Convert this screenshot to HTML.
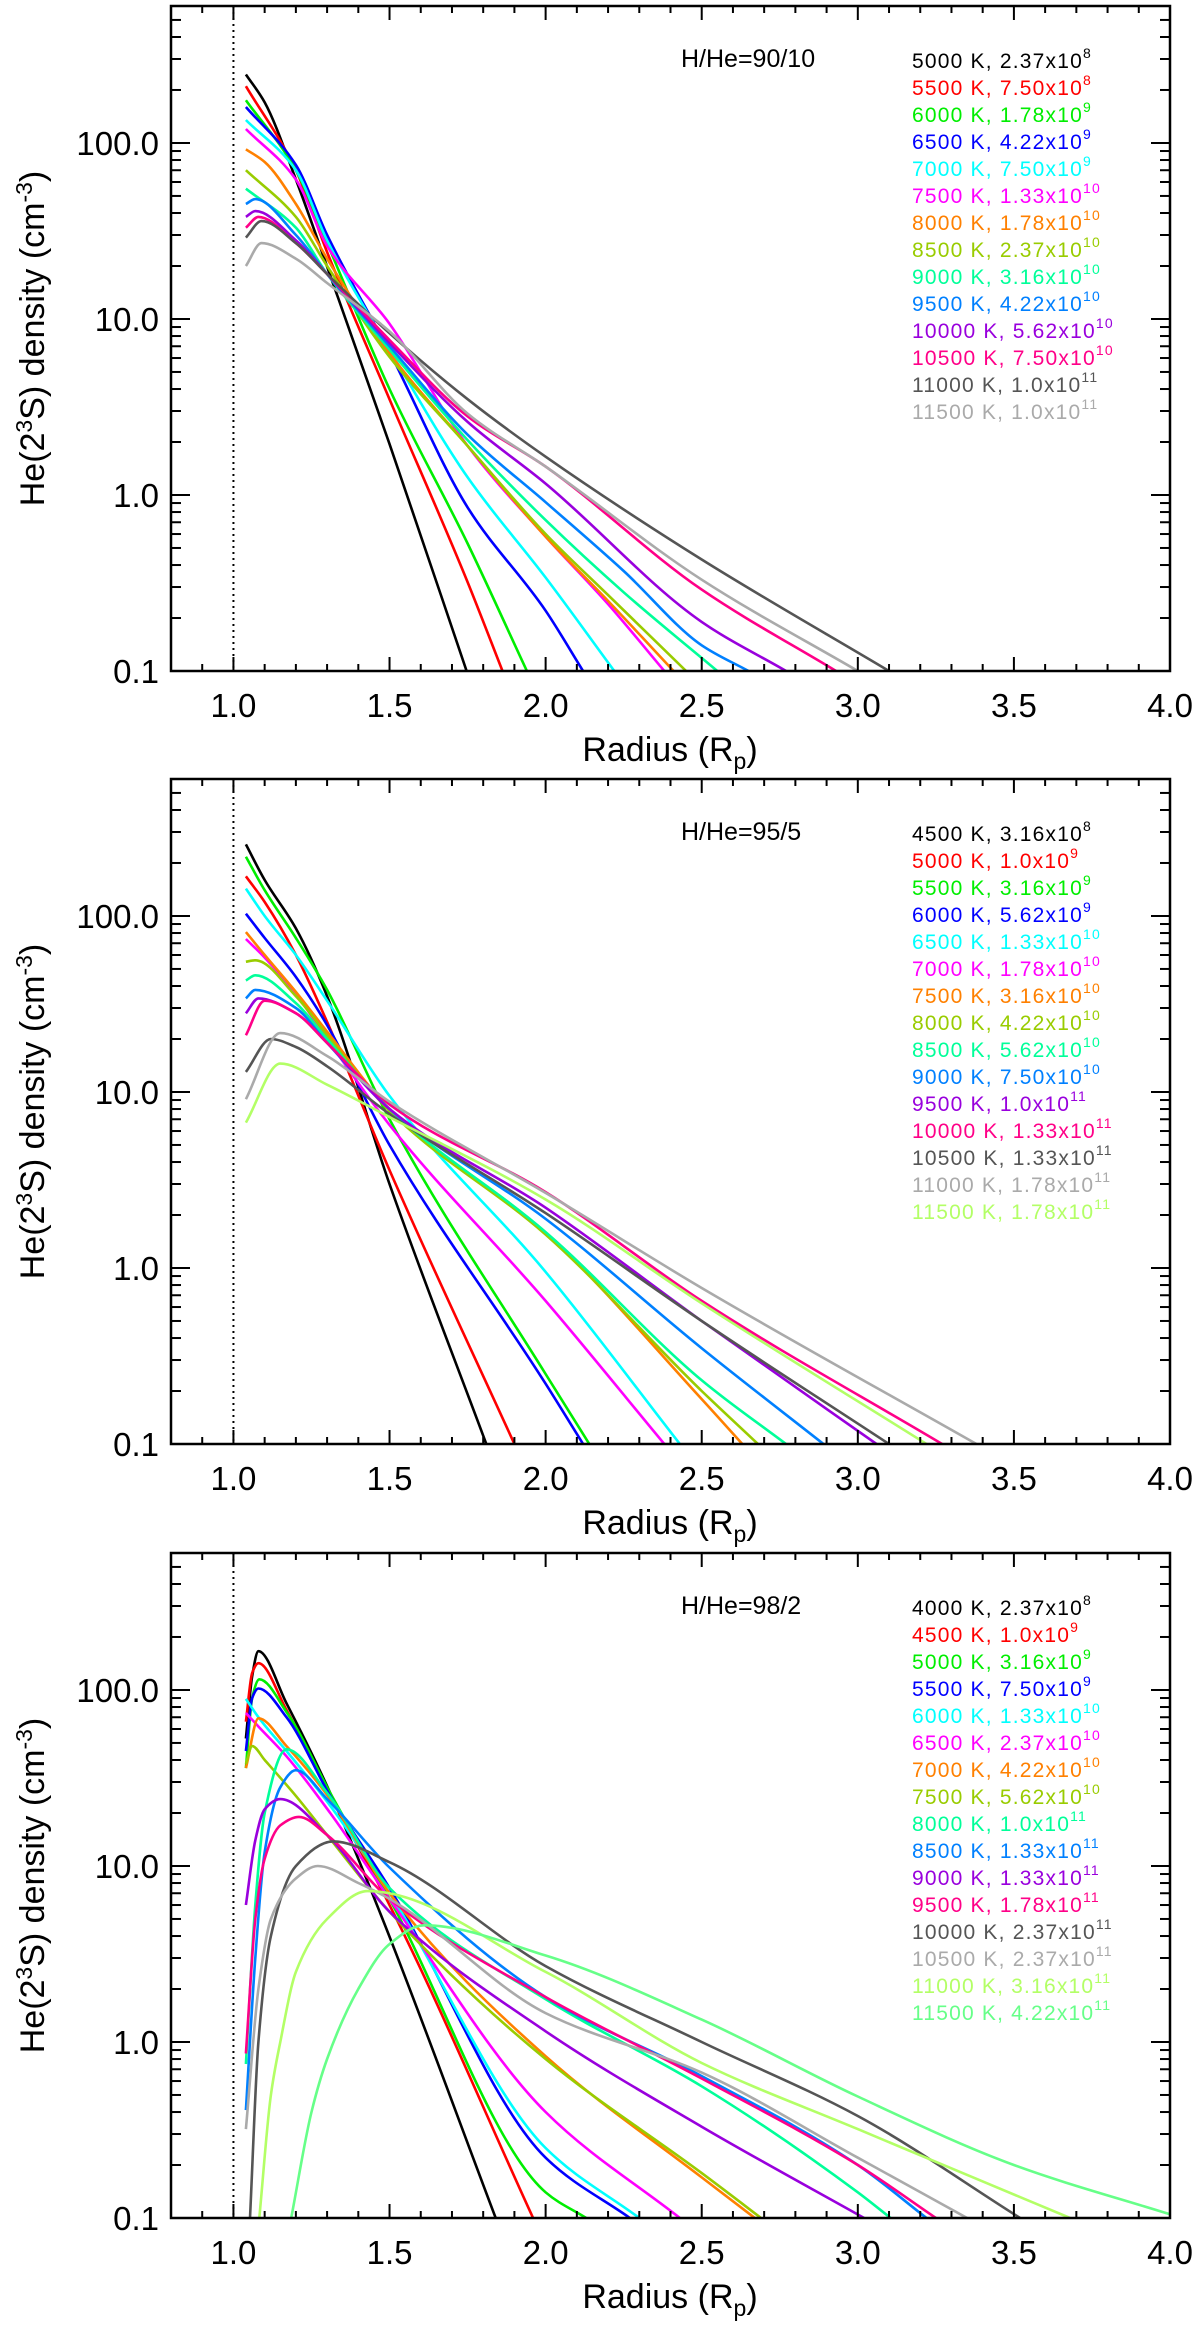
<!DOCTYPE html>
<html><head><meta charset="utf-8">
<style>
html,body{margin:0;padding:0;background:#fff;}
svg{display:block;font-family:"Liberation Sans",Arial,sans-serif;}
</style></head>
<body>
<svg id="fig" width="1200" height="2326" viewBox="0 0 1200 2326" xmlns="http://www.w3.org/2000/svg"></svg>
<script>
// ---- shared axis settings ----
const xTicks = [1.0, 1.5, 2.0, 2.5, 3.0, 3.5, 4.0];
const xTickLabels = ["1.0", "1.5", "2.0", "2.5", "3.0", "3.5", "4.0"];
const yTicks = [0.1, 1, 10, 100];
const yTickLabels = ["0.1", "1.0", "10.0", "100.0"];
const panelTitles = ["H/He=90/10", "H/He=95/5", "H/He=98/2"];

// ---- panel 1 (H/He=90/10) ----
const p1Temps = ["5000 K, 2.37x10", "5500 K, 7.50x10", "6000 K, 1.78x10", "6500 K, 4.22x10", "7000 K, 7.50x10", "7500 K, 1.33x10", "8000 K, 1.78x10", "8500 K, 2.37x10", "9000 K, 3.16x10", "9500 K, 4.22x10", "10000 K, 5.62x10", "10500 K, 7.50x10", "11000 K, 1.0x10", "11500 K, 1.0x10"];
const p1Exp = ["8","8","9","9","9","10","10","10","10","10","10","10","11","11"];
const p1Radius = [
 [1.04,1.1,1.2,1.33,1.5,1.747],
 [1.04,1.2,1.3,1.5,1.75,1.862],
 [1.04,1.2,1.3,1.5,1.75,1.94],
 [1.04,1.2,1.3,1.5,1.75,2.0,2.12],
 [1.04,1.2,1.3,1.5,1.75,2.0,2.22],
 [1.04,1.2,1.3,1.5,1.75,2.0,2.2,2.38],
 [1.04,1.1,1.2,1.3,1.5,1.75,2.0,2.2,2.41],
 [1.04,1.2,1.3,1.5,1.75,2.0,2.2,2.45],
 [1.04,1.2,1.3,1.5,1.75,2.0,2.25,2.55],
 [1.04,1.07,1.2,1.3,1.5,1.75,2.0,2.25,2.5,2.65],
 [1.04,1.07,1.2,1.3,1.5,1.75,2.0,2.5,2.77],
 [1.04,1.08,1.2,1.3,1.5,1.75,2.0,2.5,2.93],
 [1.04,1.09,1.2,1.3,1.5,1.75,2.0,2.5,3.1],
 [1.04,1.09,1.2,1.3,1.5,1.75,2.0,2.5,3.0]
];
const p1Density = [
 [245,170,62,14,1.95,0.1],
 [210,70,24,3.5,0.32,0.1],
 [175,70,27,4.0,0.53,0.1],
 [160,75,30,6.5,0.85,0.22,0.1],
 [135,70,28,6.7,1.26,0.34,0.1],
 [120,62,26,9.4,1.9,0.58,0.24,0.1],
 [92,78,45,22,6.4,1.9,0.58,0.25,0.1],
 [70,38,20,6.1,1.9,0.6,0.27,0.1],
 [55,33,18,6.7,2.05,0.72,0.28,0.1],
 [45,48,30,18,7.0,2.2,0.91,0.37,0.14,0.1],
 [38,41,28,18,7.3,2.6,1.16,0.19,0.1],
 [33,38,27,18,7.6,2.8,1.45,0.29,0.1],
 [29,36,27,18,8.3,3.5,1.65,0.43,0.1],
 [20,27,22,16,8.5,2.9,1.45,0.33,0.1]
];
const p1Colors = ["#000000","#ff0000","#00ee00","#0000ff","#00ffff","#ff00ff","#ff8000","#99cc00","#00ff99","#0080ff","#9900dd","#ff0088","#555555","#aaaaaa"];

// ---- panel 2 (H/He=95/5) ----
const p2Temps = ["4500 K, 3.16x10","5000 K, 1.0x10","5500 K, 3.16x10","6000 K, 5.62x10","6500 K, 1.33x10","7000 K, 1.78x10","7500 K, 3.16x10","8000 K, 4.22x10","8500 K, 5.62x10","9000 K, 7.50x10","9500 K, 1.0x10","10000 K, 1.33x10","10500 K, 1.33x10","11000 K, 1.78x10","11500 K, 1.78x10"];
const p2Exp = ["8","9","9","9","10","10","10","10","10","10","11","11","11","11","11"];
const p2Radius = [
 [1.04,1.1,1.2,1.3,1.5,1.81],
 [1.04,1.1,1.2,1.3,1.5,1.9],
 [1.04,1.1,1.2,1.3,1.5,2.0,2.14],
 [1.04,1.1,1.2,1.3,1.5,2.0,2.12],
 [1.04,1.1,1.2,1.3,1.5,2.0,2.43],
 [1.04,1.1,1.2,1.3,1.5,2.0,2.38],
 [1.04,1.1,1.2,1.3,1.5,2.0,2.5,2.63],
 [1.04,1.07,1.2,1.3,1.5,2.0,2.5,2.68],
 [1.04,1.07,1.2,1.3,1.5,2.0,2.5,2.77],
 [1.04,1.07,1.2,1.3,1.5,2.0,2.5,2.89],
 [1.04,1.08,1.2,1.3,1.5,2.0,2.5,3.06],
 [1.04,1.1,1.2,1.3,1.5,2.0,2.5,3.27],
 [1.04,1.12,1.2,1.3,1.5,2.0,2.5,3.1],
 [1.04,1.15,1.3,1.5,2.0,2.5,3.38],
 [1.04,1.15,1.3,1.5,2.0,2.5,3.22]
];
const p2Density = [
 [255,160,85,35,3,0.1],
 [168,120,60,25,3.6,0.1],
 [217,140,75,38,7,0.25,0.1],
 [103,75,45,24,5,0.22,0.1],
 [143,100,60,33,9.5,0.95,0.1],
 [74,58,36,20,6.5,0.65,0.1],
 [81,60,37,22,8,1.58,0.18,0.1],
 [55,56,35,21,7.8,1.55,0.2,0.1],
 [43,46,32,20,8,1.6,0.23,0.1],
 [34,38,30,19,8,1.9,0.35,0.1],
 [28,34,28,19,8,2.2,0.5,0.1],
 [21,33,28,19,8.5,2.7,0.65,0.1],
 [13,20,18,14,7.5,2.05,0.5,0.1],
 [9.1,21.6,16,8.8,2.67,0.77,0.1],
 [6.7,14.5,11,7.2,2.45,0.63,0.1]
];
const p2Colors = ["#000000","#ff0000","#00ee00","#0000ff","#00ffff","#ff00ff","#ff8000","#99cc00","#00ff99","#0080ff","#9900dd","#ff0088","#555555","#aaaaaa","#b3ff66"];

// ---- panel 3 (H/He=98/2) ----
const p3Temps = ["4000 K, 2.37x10","4500 K, 1.0x10","5000 K, 3.16x10","5500 K, 7.50x10","6000 K, 1.33x10","6500 K, 2.37x10","7000 K, 4.22x10","7500 K, 5.62x10","8000 K, 1.0x10","8500 K, 1.33x10","9000 K, 1.33x10","9500 K, 1.78x10","10000 K, 2.37x10","10500 K, 2.37x10","11000 K, 3.16x10","11500 K, 4.22x10"];
const p3Exp = ["8","9","9","9","10","10","10","10","11","11","11","11","11","11","11","11"];
const p3Radius = [
 [1.04,1.06,1.08,1.17,1.31,1.47,1.84],
 [1.04,1.06,1.08,1.17,1.31,1.5,1.96],
 [1.04,1.06,1.083,1.17,1.31,1.5,2.0,2.13],
 [1.04,1.06,1.08,1.17,1.31,1.5,2.0,2.27],
 [1.04,1.08,1.17,1.31,1.5,2.0,2.3],
 [1.04,1.08,1.17,1.31,1.5,2.0,2.43],
 [1.04,1.08,1.17,1.31,1.5,2.0,2.5,2.67],
 [1.04,1.06,1.1,1.2,1.3,1.5,2.0,2.5,2.69],
 [1.04,1.07,1.1,1.17,1.3,1.5,2.0,2.5,3.0,3.105],
 [1.04,1.07,1.1,1.15,1.2,1.3,1.5,2.0,2.5,3.0,3.22],
 [1.04,1.07,1.1,1.15,1.3,1.5,2.0,2.5,3.02],
 [1.04,1.07,1.1,1.15,1.21,1.3,1.5,2.0,2.5,3.0,3.25],
 [1.053,1.08,1.12,1.2,1.32,1.5,2.0,2.5,3.0,3.52],
 [1.04,1.08,1.12,1.2,1.27,1.4,1.5,2.0,2.5,3.0,3.35],
 [1.083,1.12,1.15,1.2,1.3,1.43,2.0,2.5,3.0,3.68],
 [1.185,1.25,1.3,1.4,1.5,1.61,2.0,2.5,3.0,3.5,4.0]
];
const p3Density = [
 [53,120,166,84,26,5.4,0.1],
 [66,125,142,77,25,6,0.1],
 [36,90,115,75,26,6.5,0.14,0.1],
 [45,90,102,70,25,7.5,0.22,0.1],
 [89,70,45,22,7,0.25,0.1],
 [74,62,42,20,6.5,0.4,0.1],
 [36,69,48,24,7,0.83,0.17,0.1],
 [38,48,40,25,15,5.5,0.8,0.18,0.1],
 [0.75,6,20,46,26,7.5,1.75,0.56,0.14,0.1],
 [0.41,3,12,28,35,24,9.8,1.8,0.64,0.2,0.1],
 [6,14,21,24,15,5.5,1.15,0.33,0.1],
 [0.86,5,11,17,19,15,6.5,1.8,0.62,0.2,0.1],
 [0.1,1,4,10,13.8,10.5,2.7,1.0,0.38,0.1],
 [0.32,2,5,8.5,10,8,6.5,1.46,0.67,0.22,0.1],
 [0.1,0.5,1.0,2.5,5.0,7.2,2.5,0.76,0.32,0.1],
 [0.1,0.4,0.8,2.0,3.6,4.6,3.1,1.34,0.49,0.2,0.105]
];
const p3Colors = ["#000000","#ff0000","#00ee00","#0000ff","#00ffff","#ff00ff","#ff8000","#99cc00","#00ff99","#0080ff","#9900dd","#ff0088","#555555","#aaaaaa","#b3ff66","#66ff88"];

// ---- layout ----
const NS = "http://www.w3.org/2000/svg";
const svg = document.getElementById("fig");
const L = 171, R = 1170, H = 665;
const panelTops = [6, 779, 1553];
const X0 = 0.8, X1 = 4.0, Y0 = 0.1, Y1 = 600;
function xs(r){ return L + (r - X0) / (X1 - X0) * (R - L); }
function ysf(top){ return v => top + H - (Math.log10(v) - Math.log10(Y0)) / (Math.log10(Y1) - Math.log10(Y0)) * H; }
function mk(tag, attrs, parent){ const e = document.createElementNS(NS, tag); for (const k in attrs) e.setAttribute(k, attrs[k]); (parent||svg).appendChild(e); return e; }

// monotone cubic (Fritsch-Carlson) path through pixel points
function monoPath(pts){
  const n = pts.length;
  const dx = [], m = [];
  for (let i = 0; i < n-1; i++){ dx.push(pts[i+1][0]-pts[i][0]); m.push((pts[i+1][1]-pts[i][1])/dx[i]); }
  const t = new Array(n);
  t[0] = m[0]; t[n-1] = m[n-2];
  for (let i = 1; i < n-1; i++){
    if (m[i-1]*m[i] <= 0) t[i] = 0;
    else { const w1 = 2*dx[i]+dx[i-1], w2 = dx[i]+2*dx[i-1]; t[i] = (w1+w2)/(w1/m[i-1]+w2/m[i]); }
  }
  let d = "M" + pts[0][0].toFixed(1) + "," + pts[0][1].toFixed(1);
  for (let i = 0; i < n-1; i++){
    const h = dx[i]/3;
    d += " C" + (pts[i][0]+h).toFixed(1) + "," + (pts[i][1]+t[i]*h).toFixed(1) + " " + (pts[i+1][0]-h).toFixed(1) + "," + (pts[i+1][1]-t[i+1]*h).toFixed(1) + " " + pts[i+1][0].toFixed(1) + "," + pts[i+1][1].toFixed(1);
  }
  return d;
}

function drawPanel(pi, radius, density, colors, temps, exps){
  const top = panelTops[pi];
  const ys = ysf(top);
  const g = mk("g", {});
  
  
  const clipId = "clip" + pi;
  const cp = mk("clipPath", {id: clipId}, g);
  mk("rect", {x: L, y: top, width: R-L, height: H}, cp);

  const dl = mk("line", {x1: xs(1), x2: xs(1), y1: top, y2: top+H, stroke: "#000", "stroke-width": 2, "stroke-dasharray": "2 4"}, g);
  
  

  const cg = mk("g", {"clip-path": "url(#" + clipId + ")"}, g);
  for (let s = 0; s < radius.length; s++){
    const pts = radius[s].map((r, i) => [xs(r), ys(density[s][i])]);
    const path = mk("path", {d: monoPath(pts), fill: "none", stroke: colors[s], "stroke-width": 2.6, "stroke-linejoin": "round"}, cg);
    
    
  }

  const fr = mk("rect", {x: L, y: top, width: R-L, height: H, fill: "none", stroke: "#000", "stroke-width": 2.5}, g);
  
  

  for (let v = 0.8; v <= 4.0001; v += 0.1){
    const x = xs(v);
    const major = Math.abs(v*2 - Math.round(v*2)) < 1e-6;
    const len = major ? 14 : 7;
    mk("line", {x1: x, x2: x, y1: top+H, y2: top+H-len, stroke: "#000", "stroke-width": 2}, g);
    mk("line", {x1: x, x2: x, y1: top, y2: top+len, stroke: "#000", "stroke-width": 2}, g);
  }
  xTicks.forEach((v, i) => {
    const t = mk("text", {x: xs(v), y: top+H+46, "text-anchor": "middle", "font-size": 33}, g);
    t.textContent = xTickLabels[i];
    
    
  });
  for (let dec = -1; dec <= 2; dec++){
    for (let mm = 1; mm <= 9; mm++){
      const v = mm * Math.pow(10, dec);
      if (v > Y1) continue;
      const y = ys(v);
      const len = mm === 1 ? 19 : 10;
      mk("line", {x1: L, x2: L+len, y1: y, y2: y, stroke: "#000", "stroke-width": 2}, g);
      mk("line", {x1: R, x2: R-len, y1: y, y2: y, stroke: "#000", "stroke-width": 2}, g);
    }
  }
  yTicks.forEach((v, i) => {
    const t = mk("text", {x: 159, y: ys(v)+12, "text-anchor": "end", "font-size": 33}, g);
    t.textContent = yTickLabels[i];
    
    
  });

  const xt = mk("text", {x: 670, y: top+H+90, "text-anchor": "middle", "font-size": 34}, g);
  xt.innerHTML = 'Radius (R<tspan dy="8" font-size="23">p</tspan><tspan dy="-8">)</tspan>';
  
  
  const yt = mk("text", {x: 0, y: 0, "text-anchor": "middle", "font-size": 34, transform: "translate(44," + (top+H/2) + ") rotate(-90)"}, g);
  yt.innerHTML = 'He(2<tspan dy="-12" font-size="23">3</tspan><tspan dy="12">S) density (cm</tspan><tspan dy="-12" font-size="23">-3</tspan><tspan dy="12">)</tspan>';
  
  

  const pt = mk("text", {x: 681, y: top+61, "font-size": 25}, g);
  pt.textContent = panelTitles[pi];
  
  

  for (let s = 0; s < temps.length; s++){
    const t = mk("text", {x: 912, y: top+62+27*s, "font-size": 21, "letter-spacing": 1.2, fill: colors[s]}, g);
    t.innerHTML = temps[s] + '<tspan dy="-10" font-size="14">' + exps[s] + '</tspan>';
    
    
  }
}

drawPanel(0, p1Radius, p1Density, p1Colors, p1Temps, p1Exp);
drawPanel(1, p2Radius, p2Density, p2Colors, p2Temps, p2Exp);
drawPanel(2, p3Radius, p3Density, p3Colors, p3Temps, p3Exp);
</script>
</body></html>
